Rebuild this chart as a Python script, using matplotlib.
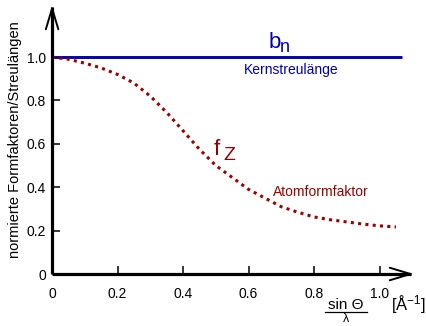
import matplotlib
matplotlib.use("Agg")
from matplotlib import pyplot as plt

plt.rcParams['font.family'] = ['Liberation Sans', 'DejaVu Sans']
plt.rcParams['mathtext.fontset'] = 'custom'
plt.rcParams['mathtext.rm'] = 'Liberation Sans'
plt.rcParams['mathtext.it'] = 'Liberation Sans'

# atomic form factor
q = [0, 0.05, 0.1, 0.15, 0.2, 0.25, 0.3, 0.35, 0.4, 0.45, 0.5, 0.55,
     0.6, 0.65, 0.7, 0.75, 0.8, 0.85, 0.9, 0.95, 1.0, 1.05]
f_z = [1.0, 0.99, 0.972, 0.95, 0.92, 0.88, 0.82, 0.745, 0.66, 0.575, 0.50,
       0.445, 0.39, 0.35, 0.31, 0.285, 0.263, 0.25, 0.24, 0.23, 0.222, 0.217]

# nuclear scattering length, constant
b_q = [0, 1.067]
b_n = [1.0, 1.0]

xticks = [0, 0.2, 0.4, 0.6, 0.8, 1.0]
xlabels = ['0', '0.2', '0.4', '0.6', '0.8', '1.0']
yticks = [0, 0.2, 0.4, 0.6, 0.8, 1.0]
ylabels = ['0', '0.2', '0.4', '0.6', '0.8', '1.0']

blue = '#0000b0'
red = '#990000'

XMAX = 1.105
YMAX = 1.24

fig = plt.figure(figsize=(4.27, 3.26), dpi=100)
ax = fig.add_axes([0.122, 0.1595, 0.8475, 0.825])
ax.set_xlim(0, XMAX)
ax.set_ylim(0, YMAX)

ax.plot(b_q, b_n, color=blue, lw=2.1, solid_capstyle='butt', zorder=3)
ax.plot(q, f_z, color=red, lw=2.2, linestyle=(0, (1.0, 1.4)), zorder=4)

for s in ax.spines.values():
    s.set_visible(False)

# axes with open arrow heads
ax.plot([0, XMAX - 0.01], [0, 0], color='black', lw=2.3,
        solid_capstyle='butt', clip_on=False, zorder=5)
ax.plot([0, 0], [0, YMAX - 0.01], color='black', lw=2.3,
        solid_capstyle='butt', clip_on=False, zorder=5)
head = '->,head_length=1.5,head_width=0.45'
ax.annotate('', xy=(XMAX, 0), xytext=(XMAX - 0.1, 0),
            arrowprops=dict(arrowstyle=head, lw=1.4, color='black',
                            mutation_scale=10, shrinkA=0, shrinkB=0),
            annotation_clip=False, zorder=6)
ax.annotate('', xy=(0, YMAX), xytext=(0, YMAX - 0.15),
            arrowprops=dict(arrowstyle=head, lw=1.4, color='black',
                            mutation_scale=10, shrinkA=0, shrinkB=0),
            annotation_clip=False, zorder=6)

ax.set_xticks(xticks)
ax.set_xticklabels(xlabels)
ax.set_yticks(yticks)
ax.set_yticklabels(ylabels)
ax.tick_params(direction='in', length=5.5, width=1.1, labelsize=10,
               colors='black')
ax.tick_params(axis='x', pad=9)
ax.tick_params(axis='y', pad=4.5)
ax.xaxis.get_major_ticks()[0].tick1line.set_visible(False)
ax.yaxis.get_major_ticks()[0].tick1line.set_visible(False)
ax.yaxis.get_major_ticks()[-1].tick1line.set_visible(False)

ax.set_ylabel('normierte Formfaktoren/Streulängen', fontsize=10.5, labelpad=3)

# curve labels
ax.text(0.66, 1.041, 'b', color=blue, fontsize=16, ha='left', va='baseline')
ax.text(0.695, 1.023, 'n', color=blue, fontsize=13, ha='left', va='baseline')
ax.text(0.73, 0.94, 'Kernstreulänge', color=blue, fontsize=10,
        ha='center', va='center')
ax.text(0.494, 0.548, 'f', color=red, fontsize=16, ha='left', va='baseline')
ax.text(0.524, 0.525, 'Z', color=red, fontsize=14, ha='left', va='baseline')
ax.text(0.82, 0.378, 'Atomformfaktor', color=red, fontsize=10,
        ha='center', va='center')

# x axis label: sin(Theta)/lambda as a stacked fraction
fig.text(0.81, 0.051, 'sin Θ', fontsize=11, ha='center', va='baseline')
fig.add_artist(plt.Line2D([0.762, 0.860], [0.042, 0.042], color='black',
                          lw=0.9, transform=fig.transFigure))
fig.text(0.81, 0.012, 'λ', fontsize=9, ha='center', va='baseline')
fig.text(0.956, 0.064, r'[Å$^{-1}$]', fontsize=12, ha='center',
         va='center')

fig.savefig('out.png', dpi=100)
